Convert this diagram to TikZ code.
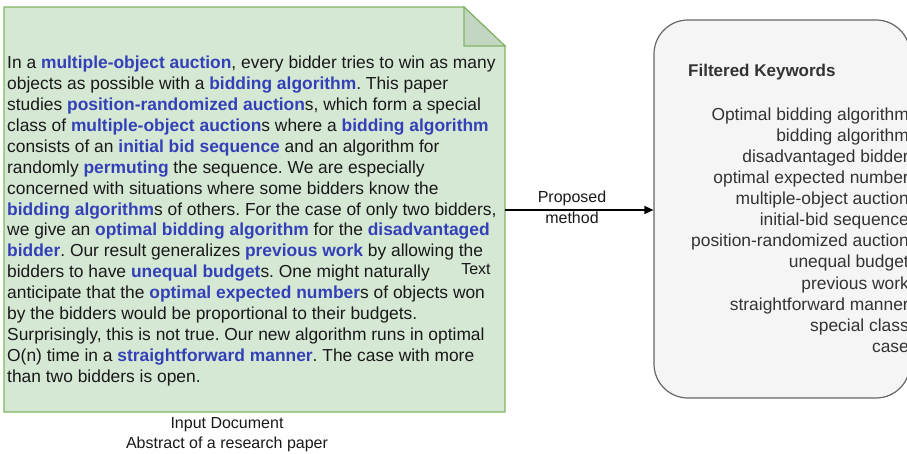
\documentclass[tikz,border=0pt]{standalone}
\usepackage{fontspec}
\setmainfont{Liberation Sans}
\usetikzlibrary{arrows.meta}
\definecolor{docfill}{HTML}{D5E8D4}
\definecolor{docdraw}{HTML}{82B366}
\definecolor{folddark}{HTML}{C2D6C1}
\definecolor{kwblue}{RGB}{52,64,184}
\definecolor{boxfill}{HTML}{F5F5F5}
\definecolor{boxdraw}{HTML}{666666}
\newcommand{\kwd}[1]{\textcolor{kwblue}{\bfseries #1}}
\frenchspacing
\tikzset{
  absline/.style={anchor=base west, inner sep=0pt, font=\fontsize{17.4}{20}\selectfont, text=black!90},
  kwline/.style={anchor=base east, inner sep=0pt, font=\fontsize{17.4}{20}\selectfont, text=black!80},
  plain/.style={inner sep=0pt, font=\fontsize{16}{19}\selectfont, text=black!90},
}
\begin{document}
\begin{tikzpicture}[x=1pt,y=-1pt]
\useasboundingbox (0,0) rectangle (907,454);
% document shape
\draw[docdraw, fill=docfill, line width=1.2pt] (4,7) -- (464,7) -- (505,46) -- (505,412) -- (4,412) -- cycle;
\draw[docdraw, fill=folddark, line width=1.2pt] (464,7) -- (464,46) -- (505,46) -- cycle;
\coordinate (docR) at (505,210);
% abstract text
\node[absline] (l1) at (7,69.0) {In a \kwd{multiple-object auction}, every bidder tries to win as many};
\node[absline] (l2) at (7,89.9) {objects as possible with a \kwd{bidding algorithm}. This paper};
\node[absline] (l3) at (7,110.7) {studies \kwd{position-randomized auction}s, which form a special};
\node[absline] (l4) at (7,131.6) {class of \kwd{multiple-object auction}s where a \kwd{bidding algorithm}};
\node[absline] (l5) at (7,152.5) {consists of an \kwd{initial bid sequence} and an algorithm for};
\node[absline] (l6) at (7,173.4) {randomly \kwd{permuting} the sequence. We are especially};
\node[absline] (l7) at (7,194.2) {concerned with situations where some bidders know the};
\node[absline] (l8) at (7,215.1) {\kwd{bidding algorithm}s of others. For the case of only two bidders,};
\node[absline] (l9) at (7,236.0) {we give an \kwd{optimal bidding algorithm} for the \kwd{disadvantaged}};
\node[absline] (l10) at (7,256.8) {\kwd{bidder}. Our result generalizes \kwd{previous work} by allowing the};
\node[absline] (l11) at (7,277.7) {bidders to have \kwd{unequal budget}s. One might naturally};
\node[absline] (l12) at (7,298.6) {anticipate that the \kwd{optimal expected number}s of objects won};
\node[absline] (l13) at (7,319.4) {by the bidders would be proportional to their budgets.};
\node[absline] (l14) at (7,340.3) {Surprisingly, this is not true. Our new algorithm runs in optimal};
\node[absline] (l15) at (7,361.2) {O(n) time in a \kwd{straightforward manner}. The case with more};
\node[absline] (l16) at (7,382.0) {than two bidders is open.};
\node[plain, anchor=base] (txt) at (476,275) {Text};
% captions
\node[plain, anchor=base] (cap1) at (227,428) {Input Document};
\node[plain, anchor=base] (cap2) at (227,448) {Abstract of a research paper};
% right box
\node[draw=boxdraw, fill=boxfill, line width=1.2pt, rounded corners=34pt, minimum width=256pt, minimum height=378pt, inner sep=0pt] (box) at (782,209) {};
\node[anchor=base west, inner sep=0pt, font=\fontsize{17}{20}\selectfont\bfseries, text=black!80] (ftitle) at (688,77) {Filtered Keywords};
\node[kwline] (k1) at (909,121) {Optimal bidding algorithm};
\node[kwline] (k2) at (909,142) {bidding algorithm};
\node[kwline] (k3) at (909,163) {disadvantaged bidder};
\node[kwline] (k4) at (909,184) {optimal expected number};
\node[kwline] (k5) at (909,205) {multiple-object auction};
\node[kwline] (k6) at (909,226) {initial-bid sequence};
\node[kwline] (k7) at (909,247) {position-randomized auction};
\node[kwline] (k8) at (909,268) {unequal budget};
\node[kwline] (k9) at (909,289) {previous work};
\node[kwline] (k10) at (909,310) {straightforward manner};
\node[kwline] (k11) at (909,331) {special class};
\node[kwline] (k12) at (909,352) {case};
% arrow
\draw[line width=1.3pt, -{Triangle[length=9pt,width=8pt]}] (docR) -- (box.west |- docR);
\node[plain, anchor=base] (pm1) at (572,203) {Proposed};
\node[plain, anchor=base] (pm2) at (572,224) {method};
\end{tikzpicture}
\end{document}
